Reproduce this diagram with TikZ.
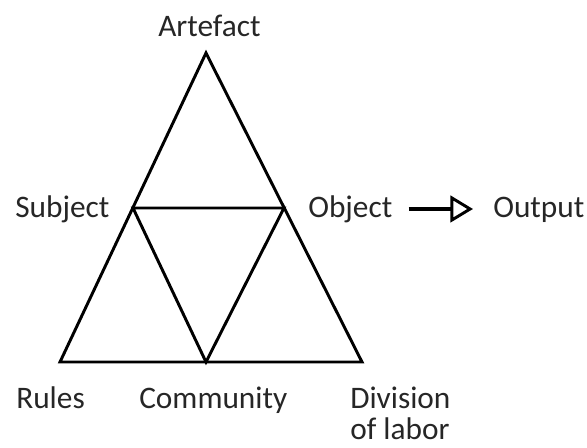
\documentclass[tikz,border=0pt]{standalone}
\usepackage{fontspec}
\setmainfont{Carlito}
\usetikzlibrary{arrows.meta}
\begin{document}
\begin{tikzpicture}[x=0.75pt,y=-0.75pt,
  edge/.style={line width=2.2pt, line join=miter},
  lbl/.style={inner sep=0pt, anchor=base west, font=\fontsize{23.5}{23.5}\selectfont, text=black!85},
  flow/.style={line width=2.4pt, -{Triangle[open, length=17pt, width=20pt, line width=2.2pt]}}]
\useasboundingbox (0,0) rectangle (587,448);
\coordinate (top) at (206,53);
\coordinate (bl) at (60,362);
\coordinate (br) at (362,362);
\coordinate (ml) at (133,208);
\coordinate (mr) at (284,208);
\coordinate (mb) at (206,362);
\draw[edge] (bl) -- (top) -- (br) -- cycle;
\draw[edge] (ml) -- (mr) -- (mb) -- cycle;
\node[lbl] (art) at (158,37) {Artefact};
\node[lbl] (sub) at (15,218) {Subject};
\node[lbl] (obj) at (308,218) {Object};
\node[lbl] (out) at (493,218) {Output};
\node[lbl] (rul) at (16,409) {Rules};
\node[lbl] (com) at (139,409) {Community};
\node[lbl] (div) at (350,409) {Division};
\node[lbl] (lab) at (350,440) {of labor};
\coordinate (a1) at ([xshift=12pt]obj.east |- 0,209);
\coordinate (a2) at ([xshift=-15pt]out.west |- 0,209);
\draw[flow] (a1) -- (a2);
\end{tikzpicture}
\end{document}
